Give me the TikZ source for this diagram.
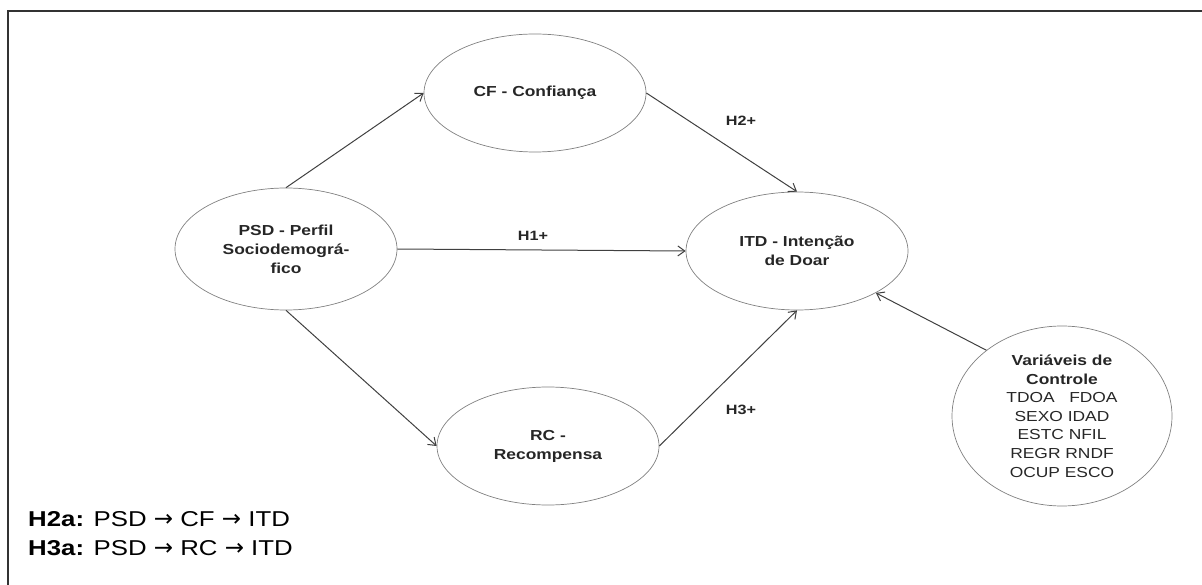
\documentclass[tikz,border=0pt]{standalone}
\usepackage{fontspec}
\setmainfont{Liberation Sans}
\newfontfamily\lab[FakeStretch=1.2]{Liberation Sans}
\newfontfamily\arrowfont{DejaVu Sans}
\newcommand{\notearrow}{{\arrowfont\fontsize{23}{30}\selectfont →}}
\usetikzlibrary{arrows.meta,shapes.geometric}
\begin{document}
\begin{tikzpicture}[x=1pt,y=-1pt,
  latent/.style={ellipse, draw=black!50, line width=0.7pt, inner sep=0pt},
  lbl/.style={align=center, inner sep=0pt, text=black!85,
    font=\lab\bfseries\fontsize{14.5}{19}\selectfont},
  hyp/.style={inner sep=0pt, text=black!85, font=\lab\bfseries\fontsize{13.5}{16}\selectfont},
  arr/.style={draw=black!75, line width=1pt, -{Straight Barb[length=7pt,width=10pt]}},
  frame/.style={draw=black!80, line width=1.3pt}]
\useasboundingbox (0,0) rectangle (1202,585);
\draw[frame] (8,586) -- (8,11) -- (1203,11);

\node[latent, minimum width=222pt, minimum height=118pt] (cf) at (535,93) {};
\node[lbl] (cft) at (cf) {CF - Confiança};

\node[latent, minimum width=222pt, minimum height=122pt] (psd) at (286,249) {};
\node[lbl] (psdt) at (psd) {PSD - Perfil\\Sociodemográ-\\fico};

\node[latent, minimum width=222pt, minimum height=118pt] (itd) at (797,251) {};
\node[lbl] (itdt) at (itd) {ITD - Intenção\\de Doar};

\node[latent, minimum width=222pt, minimum height=118pt] (rc) at (548,446) {};
\node[lbl] (rct) at (rc) {RC -\\Recompensa};

\node[latent, minimum width=220pt, minimum height=180pt] (var) at (1062,416) {};
\node[align=center, inner sep=0pt, text=black!85, font=\lab\fontsize{14.5}{18.6}\selectfont] (vart) at (var)
  {{\bfseries Variáveis de}\\{\bfseries Controle}\\TDOA\ \ \ FDOA\\SEXO IDAD\\ESTC NFIL\\REGR RNDF\\OCUP ESCO};

\draw[arr] (psd.north) -- (cf.west);
\draw[arr] (cf.east) -- (itd.north);
\draw[arr] (psd.east) -- (itd.west);
\draw[arr] (psd.south) -- (rc.west);
\draw[arr] (rc.east) -- (itd.south);
\draw[arr] (var.139) -- (itd.-28);

\node[hyp] (h2) at (741,121) {H2+};
\node[hyp] (h1) at (533,236) {H1+};
\node[hyp] (h3) at (741,410) {H3+};

\node[anchor=west, align=left, inner sep=0pt, font=\lab\fontsize{21.5}{29}\selectfont] (notes) at (28,534)
  {{\bfseries H2a:} PSD \notearrow{} CF \notearrow{} ITD\\
   {\bfseries H3a:} PSD \notearrow{} RC \notearrow{} ITD};
\end{tikzpicture}
\end{document}
